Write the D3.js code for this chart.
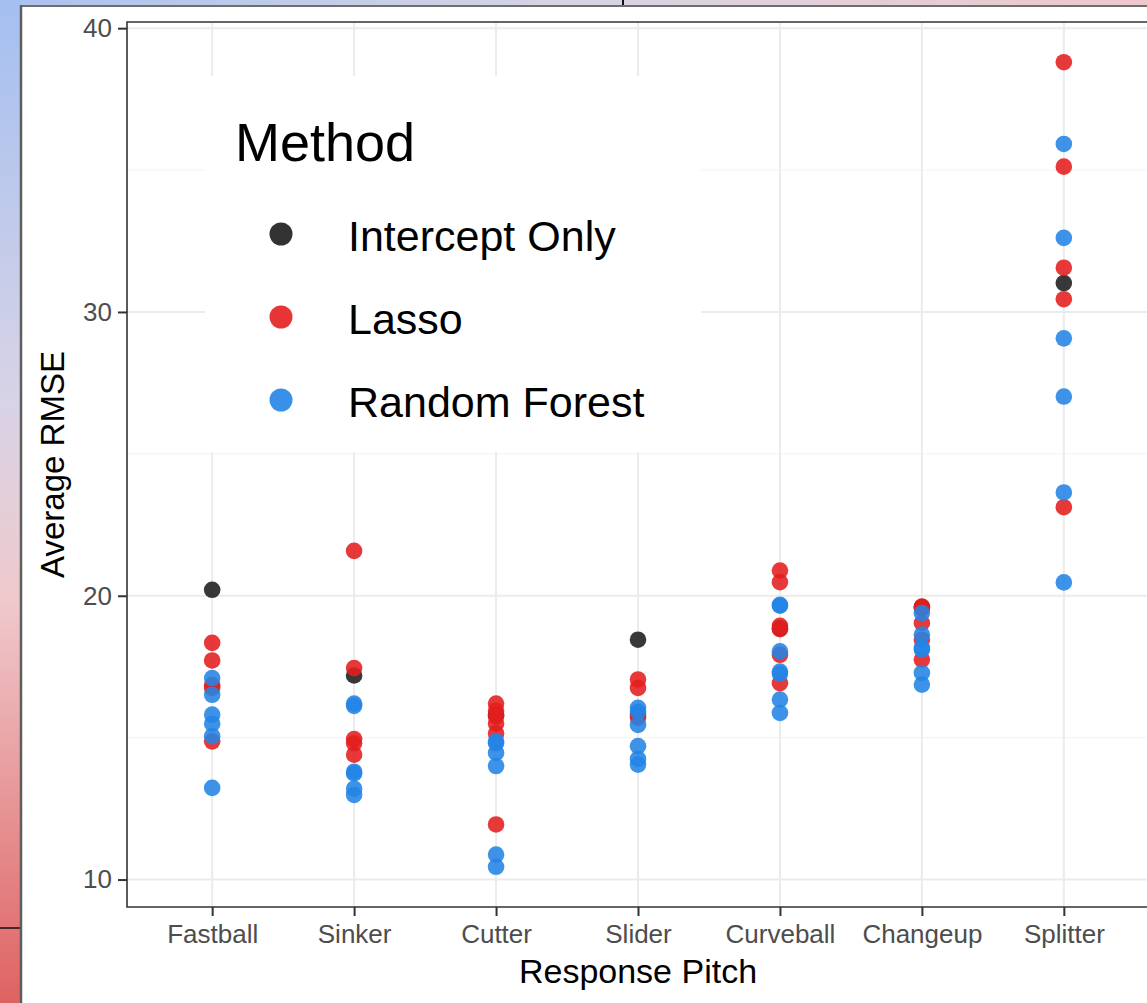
<!DOCTYPE html>
<html>
<head>
<meta charset="utf-8">
<script src="https://cdn.jsdelivr.net/npm/d3@7"></script>
<style>
  html, body { margin: 0; padding: 0; background: #fff; }
  svg { display: block; }
  text { font-family: "Liberation Sans", Arial, sans-serif; }
</style>
</head>
<body>
<svg id="chart" width="1147" height="1003"></svg>
<script>
// Response pitch categories along the x axis
const pitches = ["Fastball", "Sinker", "Cutter", "Slider", "Curveball", "Changeup", "Splitter"];

// Method names and colours for the legend
const methods = ["Intercept Only", "Lasso", "Random Forest"];
const methodColors = ["#1c1c1c", "#e41e1e", "#2384e6"];

// Average RMSE per pitch, one value for the intercept-only model
const interceptOnly = [20.21, 17.19, 15.8, 18.45, 18.85, 19.6, 31.02];

// Average RMSE per pitch for each Lasso fit
const lasso = [
  [18.34, 17.72, 16.85, 16.75, 14.87],
  [21.58, 17.45, 14.95, 14.8, 14.4],
  [16.2, 15.95, 15.75, 15.5, 15.15, 11.94],
  [17.05, 16.75, 15.8, 15.7],
  [20.89, 20.48, 18.94, 18.82, 17.92, 16.92],
  [19.62, 19.55, 19.04, 18.45, 17.75],
  [38.8, 35.12, 31.56, 30.45, 23.12]
];

// Average RMSE per pitch for each Random Forest fit
const randomForest = [
  [17.1, 16.51, 15.81, 15.49, 15.05, 13.23],
  [16.2, 16.12, 13.8, 13.74, 13.2, 12.98],
  [14.87, 14.8, 14.46, 14.0, 10.88, 10.45],
  [16.05, 15.9, 15.45, 14.7, 14.25, 14.05],
  [19.68, 19.65, 18.04, 17.33, 17.25, 16.34, 15.87],
  [19.39, 18.63, 18.16, 18.1, 17.28, 16.87],
  [35.92, 32.61, 29.07, 27.02, 23.64, 20.47]
];

const yMajorTicks = [10, 20, 30, 40];
const yMinorTicks = [15, 25, 35];

// Long-format rows: one per point, intercept first so the fitted models sit on top
const rows = [];
pitches.forEach((p, i) => rows.push({ pitch: p, method: methods[0], value: interceptOnly[i] }));
pitches.forEach((p, i) => lasso[i].forEach(v => rows.push({ pitch: p, method: methods[1], value: v })));
pitches.forEach((p, i) => randomForest[i].forEach(v => rows.push({ pitch: p, method: methods[2], value: v })));

const svg = d3.select("#chart");
const W = 1147, H = 1003;

// Slide backdrop around the figure
const defs = svg.append("defs");
const gLeft = defs.append("linearGradient").attr("id", "bgLeft")
  .attr("x1", 0).attr("y1", 0).attr("x2", 0).attr("y2", 1);
gLeft.append("stop").attr("offset", "0%").attr("stop-color", "#a4bff0");
gLeft.append("stop").attr("offset", "40%").attr("stop-color", "#d8d3e6");
gLeft.append("stop").attr("offset", "60%").attr("stop-color", "#efc9cc");
gLeft.append("stop").attr("offset", "100%").attr("stop-color", "#df6262");
const gTop = defs.append("linearGradient").attr("id", "bgTop")
  .attr("x1", 0).attr("y1", 0).attr("x2", 1).attr("y2", 0);
gTop.append("stop").attr("offset", "0%").attr("stop-color", "#aac2ef");
gTop.append("stop").attr("offset", "50%").attr("stop-color", "#d6d4e2");
gTop.append("stop").attr("offset", "100%").attr("stop-color", "#efc8cb");

svg.append("rect").attr("x", 0).attr("y", 0).attr("width", W).attr("height", 6).attr("fill", "url(#bgTop)");
svg.append("rect").attr("x", 0).attr("y", 0).attr("width", 21).attr("height", H).attr("fill", "url(#bgLeft)");
svg.append("line").attr("x1", 623).attr("x2", 623).attr("y1", 0).attr("y2", 5).attr("stroke", "#111").attr("stroke-width", 2);
svg.append("line").attr("x1", 0).attr("x2", 20).attr("y1", 928).attr("y2", 928).attr("stroke", "#111").attr("stroke-width", 1.5);
svg.append("line").attr("x1", 20).attr("x2", W).attr("y1", 6).attr("y2", 6).attr("stroke", "#6e6e6e").attr("stroke-width", 2);
svg.append("line").attr("x1", 21).attr("x2", 21).attr("y1", 5).attr("y2", H).attr("stroke", "#5e5e5e").attr("stroke-width", 2.5);

// Panel geometry
const panel = { left: 127, right: 1149, top: 22, bottom: 907 };

const x = d3.scalePoint().domain(pitches).range([panel.left, panel.right]).padding(0.6);

const allVals = rows.map(r => r.value);
const vMin = d3.min(allVals), vMax = d3.max(allVals), span = vMax - vMin;
const y = d3.scaleLinear().domain([vMin - 0.05 * span, vMax + 0.05 * span]).range([panel.bottom, panel.top]);

const grid = svg.append("g");
grid.selectAll(".minor").data(yMinorTicks).join("line")
  .attr("x1", panel.left).attr("x2", panel.right)
  .attr("y1", d => y(d)).attr("y2", d => y(d))
  .attr("stroke", "#f2f2f2").attr("stroke-width", 1);
grid.selectAll(".major").data(yMajorTicks).join("line")
  .attr("x1", panel.left).attr("x2", panel.right)
  .attr("y1", d => y(d)).attr("y2", d => y(d))
  .attr("stroke", "#ebebeb").attr("stroke-width", 2);
grid.selectAll(".vmajor").data(pitches).join("line")
  .attr("x1", d => x(d)).attr("x2", d => x(d))
  .attr("y1", panel.top).attr("y2", panel.bottom)
  .attr("stroke", "#ebebeb").attr("stroke-width", 2);

// Legend box sits inside the panel, above the grid
const legend = svg.append("g");
legend.append("rect").attr("x", 205).attr("y", 76).attr("width", 496).attr("height", 376).attr("fill", "#fff");
legend.append("text").attr("x", 235).attr("y", 161).attr("font-size", 54).attr("fill", "#000").text("Method");
methods.forEach((m, i) => {
  const cy = 234 + i * 83;
  legend.append("circle").attr("cx", 281).attr("cy", cy).attr("r", 11.5)
    .attr("fill", methodColors[i]).attr("fill-opacity", 0.9);
  legend.append("text").attr("x", 348).attr("y", cy + 17).attr("font-size", 43).attr("fill", "#000").text(m);
});

// Points
const color = d3.scaleOrdinal().domain(methods).range(methodColors);
svg.append("g").selectAll("circle").data(rows).join("circle")
  .attr("cx", d => x(d.pitch))
  .attr("cy", d => y(d.value))
  .attr("r", 8.3)
  .attr("fill", d => color(d.method))
  .attr("fill-opacity", 0.88);

// Panel border
svg.append("path")
  .attr("d", `M${panel.right},${panel.top}H${panel.left}V${panel.bottom}H${panel.right}`)
  .attr("fill", "none").attr("stroke", "#333").attr("stroke-width", 1.6);

// Axes
const yAxis = svg.append("g").attr("transform", `translate(${panel.left},0)`)
  .call(d3.axisLeft(y).tickValues(yMajorTicks).tickSize(9).tickPadding(6).tickFormat(d3.format("d")));
const xAxis = svg.append("g").attr("transform", `translate(0,${panel.bottom})`)
  .call(d3.axisBottom(x).tickSize(9).tickPadding(9));
[yAxis, xAxis].forEach(a => {
  a.select(".domain").remove();
  a.selectAll(".tick line").attr("stroke", "#333").attr("stroke-width", 2);
  a.selectAll(".tick text").attr("fill", "#4d4d4d").attr("font-size", 26)
    .attr("font-family", "'Liberation Sans', Arial, sans-serif");
});

// Axis titles
svg.append("text").attr("x", (panel.left + panel.right) / 2).attr("y", 983)
  .attr("text-anchor", "middle").attr("font-size", 34).attr("fill", "#000").text("Response Pitch");
svg.append("text").attr("transform", `translate(64,${(panel.top + panel.bottom) / 2}) rotate(-90)`)
  .attr("text-anchor", "middle").attr("font-size", 33).attr("fill", "#000").text("Average RMSE");
</script>
</body>
</html>
